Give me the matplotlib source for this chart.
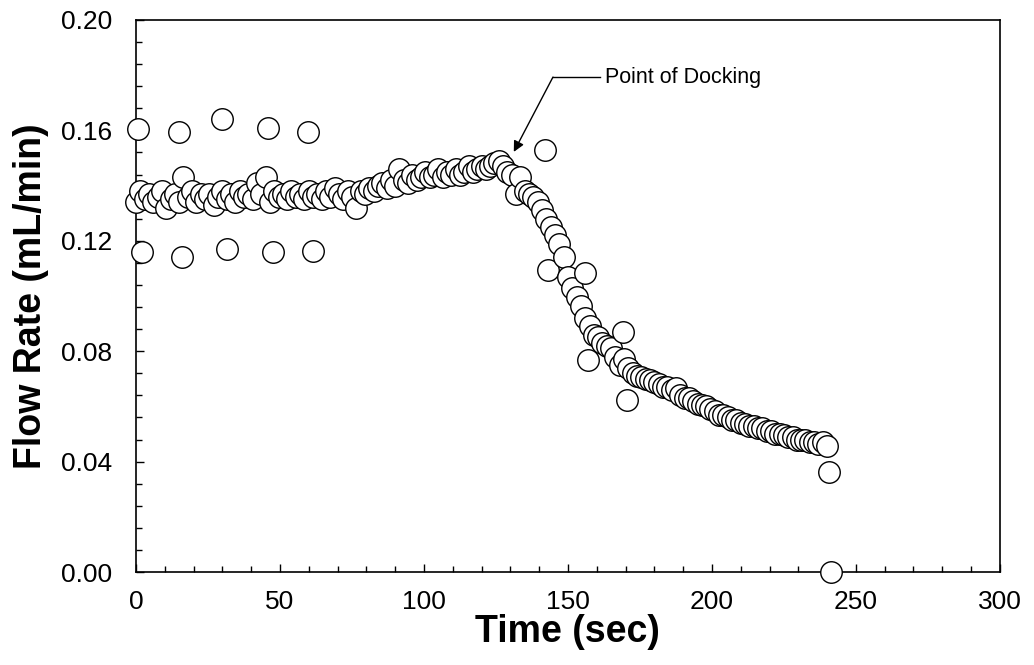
import numpy as np
import matplotlib
matplotlib.use("Agg")
import matplotlib.pyplot as plt
from matplotlib.ticker import MultipleLocator, FormatStrFormatter

plt.rcParams["font.family"] = ["Liberation Sans", "DejaVu Sans"]

# main flow record (sec, mL/min)
time_sec = [
    0.0, 1.5, 3.0, 4.5, 6.0, 7.5, 9.0, 10.5, 12.0, 13.5,
    15.0, 16.5, 18.0, 19.5, 21.0, 22.5, 24.0, 25.5, 27.0, 28.5,
    30.0, 31.5, 33.0, 34.5, 36.0, 37.5, 39.0, 40.5, 42.0, 43.5,
    45.0, 46.5, 48.0, 49.5, 51.0, 52.5, 54.0, 55.5, 57.0, 58.5,
    60.0, 61.5, 63.0, 64.5, 66.0, 67.5, 69.0, 70.5, 72.0, 73.5,
    75.0, 76.5, 78.0, 79.5, 81.0, 82.5, 84.0, 85.5, 87.0, 88.5,
    90.0, 91.5, 93.0, 94.5, 96.0, 97.5, 99.0, 100.5, 102.0, 103.5,
    105.0, 106.5, 108.0, 109.5, 111.0, 112.5, 114.0, 115.5, 117.0, 118.5,
    120.0, 121.5, 123.0, 124.5, 126.0, 127.5, 129.0, 130.5, 132.0, 133.5,
    135.0, 136.5, 138.0, 139.5, 141.0, 142.5, 144.0, 145.5, 147.0, 148.5,
    150.0, 151.5, 153.0, 154.5, 156.0, 157.5, 159.0, 160.5, 162.0, 163.5,
    165.0, 166.5, 168.0, 169.5, 171.0, 172.5, 174.0, 175.5, 177.0, 178.5,
    180.0, 181.5, 183.0, 184.5, 186.0, 187.5, 189.0, 190.5, 192.0, 193.5,
    195.0, 196.5, 198.0, 199.5, 201.0, 202.5, 204.0, 205.5, 207.0, 208.5,
    210.0, 211.5, 213.0, 214.5, 216.0, 217.5, 219.0, 220.5, 222.0, 223.5,
    225.0, 226.5, 228.0, 229.5, 231.0, 232.5, 234.0, 235.5, 237.0, 238.5,
    240.0,
]
flow_rate = [
    0.134, 0.138, 0.135, 0.137, 0.134, 0.136, 0.138, 0.132, 0.135, 0.137,
    0.134, 0.143, 0.136, 0.138, 0.134, 0.137, 0.135, 0.137, 0.133, 0.136,
    0.138, 0.135, 0.137, 0.134, 0.138, 0.136, 0.137, 0.135, 0.141, 0.137,
    0.143, 0.134, 0.138, 0.136, 0.137, 0.135, 0.138, 0.136, 0.137, 0.135,
    0.138, 0.136, 0.137, 0.135, 0.138, 0.136, 0.139, 0.137, 0.135, 0.138,
    0.136, 0.132, 0.138, 0.137, 0.139, 0.138, 0.140, 0.141, 0.139, 0.142,
    0.140, 0.146, 0.142, 0.141, 0.144, 0.142, 0.143, 0.145, 0.143, 0.144,
    0.146, 0.143, 0.145, 0.144, 0.146, 0.144, 0.145, 0.147, 0.145, 0.146,
    0.147, 0.146, 0.147, 0.148, 0.149, 0.147, 0.145, 0.144, 0.137, 0.143,
    0.138, 0.137, 0.136, 0.134, 0.131, 0.128, 0.125, 0.122, 0.119, 0.114,
    0.107, 0.103, 0.0995, 0.0965, 0.092, 0.089, 0.086, 0.085, 0.083, 0.082,
    0.081, 0.078, 0.075, 0.077, 0.074, 0.072, 0.071, 0.0705, 0.070, 0.0695,
    0.069, 0.068, 0.067, 0.067, 0.066, 0.0665, 0.064, 0.063, 0.063, 0.062,
    0.061, 0.0605, 0.060, 0.059, 0.0585, 0.057, 0.057, 0.056, 0.055, 0.055,
    0.054, 0.0535, 0.053, 0.053, 0.052, 0.052, 0.051, 0.051, 0.050, 0.050,
    0.0495, 0.049, 0.049, 0.048, 0.048, 0.0478, 0.047, 0.047, 0.0465, 0.047,
    0.0455,
]

# pump pulse readings
spike_time = [0.7, 2.1, 14.9, 16.0, 29.9, 31.6, 45.8, 47.6, 59.7, 61.5,
              142.0, 143.0, 156.0, 157.0, 169.0, 170.5, 240.5, 241.3]
spike_flow = [0.1605, 0.1159, 0.1594, 0.1141, 0.1641, 0.117, 0.1609, 0.1159,
              0.1594, 0.1163, 0.1529, 0.1094, 0.1083, 0.0768, 0.087, 0.0623,
              0.0362, 0.0]

docking_label = "Point of Docking"
docking_time, docking_flow = 131.2, 0.1522

t = np.concatenate([time_sec, spike_time])
q = np.concatenate([flow_rate, spike_flow])
order = np.argsort(t, kind="stable")

fig = plt.figure(figsize=(10.34, 6.65), dpi=100)
ax = fig.add_axes([0.1315, 0.1398, 0.8355, 0.8302])

ax.scatter(t[order], q[order], s=240, facecolor="white", edgecolor="black",
           linewidth=1.0, zorder=3, clip_on=False)

ax.set_xlim(0, 300)
ax.set_ylim(0, 0.20)
ax.xaxis.set_major_locator(MultipleLocator(50))
ax.xaxis.set_minor_locator(MultipleLocator(10))
ax.yaxis.set_major_locator(MultipleLocator(0.04))
ax.yaxis.set_minor_locator(MultipleLocator(0.008))
ax.yaxis.set_major_formatter(FormatStrFormatter("%.2f"))

ax.tick_params(which="both", direction="in", top=False, right=False,
               labelsize=19, width=1.0)
ax.tick_params(which="major", length=6)
ax.tick_params(which="minor", length=4.5)
ax.tick_params(axis="x", which="major", pad=13)
ax.tick_params(axis="y", which="major", pad=17)
for side in ax.spines.values():
    side.set_linewidth(1.2)

ax.set_xlabel("Time (sec)", fontsize=27, fontweight="bold", labelpad=0)
ax.set_ylabel("Flow Rate (mL/min)", fontsize=27, fontweight="bold", labelpad=9)

# callout: horizontal leader then arrow down to the docking point
ax.plot([144.8, 161.0], [0.1793, 0.1793], color="black", lw=1.0)
ax.annotate("", xy=(docking_time, docking_flow), xytext=(144.8, 0.1793),
            arrowprops=dict(arrowstyle="-|>", color="black", lw=1.0,
                            mutation_scale=16, shrinkA=0, shrinkB=0))
ax.text(162.8, 0.1793, docking_label, fontsize=15.5, va="center", ha="left")

fig.savefig("out.png", dpi=100)
